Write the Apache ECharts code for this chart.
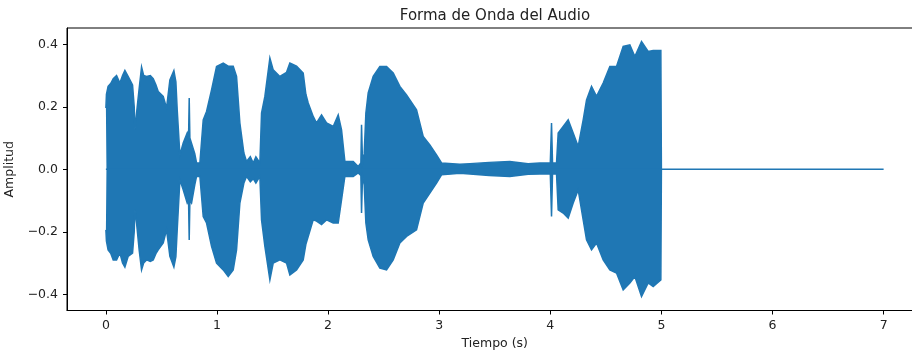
<!DOCTYPE html>
<html>
<head>
<meta charset="utf-8">
<title>Forma de Onda del Audio</title>
<script src="https://cdn.jsdelivr.net/npm/echarts@6/dist/echarts.min.js"></script>
<style>
  html, body { margin: 0; padding: 0; background: #fff; }
  #chart { width: 912px; height: 353px; }
</style>
</head>
<body>
<div id="chart"></div>
<script>
// Amplitude envelope of the recording (seconds, peak / trough)
const timeSec = [
  0.0, 0.005, 0.02, 0.045, 0.066, 0.096, 0.126, 0.15, 0.171, 0.2,
  0.24, 0.255, 0.261, 0.276, 0.3, 0.321, 0.34, 0.366, 0.4, 0.426,
  0.45, 0.471, 0.516, 0.546, 0.576, 0.612, 0.63, 0.642, 0.666, 0.696,
  0.732, 0.744, 0.75, 0.756, 0.771, 0.8, 0.816, 0.846, 0.876, 0.906,
  0.951, 0.996, 1.056, 1.101, 1.146, 1.176, 1.206, 1.242, 1.266, 1.3,
  1.326, 1.35, 1.386, 1.401, 1.431, 1.476, 1.506, 1.566, 1.626, 1.656,
  1.716, 1.776, 1.8, 1.821, 1.866, 1.896, 1.941, 1.986, 2.046, 2.091,
  2.121, 2.151, 2.226, 2.271, 2.295, 2.301, 2.31, 2.325, 2.34, 2.361,
  2.406, 2.466, 2.526, 2.586, 2.646, 2.706, 2.796, 2.856, 2.916, 2.976,
  3.021, 3.186, 3.276, 3.45, 3.636, 3.8, 3.906, 4.0, 4.011, 4.02,
  4.056, 4.071, 4.116, 4.161, 4.206, 4.251, 4.296, 4.326, 4.371, 4.416,
  4.476, 4.536, 4.596, 4.656, 4.716, 4.761, 4.821, 4.881, 4.926, 4.995,
  5.0
];
const peakAmp = [
  0.196, 0.24, 0.265, 0.275, 0.29, 0.30, 0.276, 0.30, 0.316, 0.297,
  0.27, 0.20, 0.126, 0.18, 0.26, 0.327, 0.30, 0.297, 0.30, 0.29,
  0.27, 0.249, 0.233, 0.196, 0.286, 0.316, 0.28, 0.19, 0.046, 0.084,
  0.116, 0.10, 0.228, 0.10, 0.10, 0.05, 0.02, 0.02, 0.158, 0.185,
  0.254, 0.329, 0.34, 0.33, 0.33, 0.297, 0.148, 0.052, 0.025, 0.04,
  0.02, 0.04, 0.02, 0.18, 0.233, 0.356, 0.318, 0.297, 0.31, 0.34,
  0.33, 0.308, 0.24, 0.212, 0.169, 0.148, 0.174, 0.148, 0.137, 0.174,
  0.126, 0.025, 0.025, 0.009, 0.02, 0.142, 0.02, 0.05, 0.18, 0.244,
  0.297, 0.329, 0.329, 0.308, 0.265, 0.238, 0.19, 0.105, 0.078, 0.046,
  0.02, 0.016, 0.018, 0.022, 0.025, 0.018, 0.02, 0.02, 0.148, 0.02,
  0.02, 0.116, 0.137, 0.158, 0.116, 0.073, 0.158, 0.222, 0.265, 0.233,
  0.276, 0.329, 0.329, 0.393, 0.398, 0.361, 0.409, 0.377, 0.38, 0.38,
  0
];
const troughAmp = [
  -0.194, -0.23, -0.258, -0.27, -0.29, -0.29, -0.268, -0.30, -0.313, -0.279,
  -0.268, -0.20, -0.13, -0.172, -0.26, -0.322, -0.30, -0.29, -0.295, -0.29,
  -0.27, -0.258, -0.236, -0.194, -0.279, -0.313, -0.28, -0.194, -0.034, -0.066,
  -0.108, -0.10, -0.226, -0.10, -0.108, -0.05, -0.023, -0.023, -0.151, -0.172,
  -0.247, -0.30, -0.322, -0.343, -0.322, -0.258, -0.108, -0.044, -0.023, -0.04,
  -0.03, -0.044, -0.023, -0.162, -0.247, -0.354, -0.30, -0.29, -0.30, -0.338,
  -0.322, -0.29, -0.24, -0.215, -0.162, -0.166, -0.177, -0.162, -0.172, -0.172,
  -0.098, -0.023, -0.023, -0.012, -0.02, -0.14, -0.02, -0.05, -0.172, -0.226,
  -0.279, -0.316, -0.322, -0.29, -0.236, -0.215, -0.194, -0.108, -0.076, -0.044,
  -0.018, -0.013, -0.015, -0.02, -0.023, -0.016, -0.015, -0.015, -0.151, -0.015,
  -0.015, -0.13, -0.14, -0.156, -0.108, -0.066, -0.162, -0.226, -0.258, -0.236,
  -0.29, -0.322, -0.332, -0.386, -0.364, -0.343, -0.407, -0.364, -0.375, -0.354,
  0
];
// Zero line running through the whole file, including the silent tail
const zeroLineTime = [0.0, 7.0];
const zeroLineAmp = [0, 0];

const xTicks = [0, 1, 2, 3, 4, 5, 6, 7];
const yTicks = [-0.4, -0.2, 0.0, 0.2, 0.4];
const yTickLabels = ['\u22120.4', '\u22120.2', '0.0', '0.2', '0.4'];

const BLUE = '#1f77b4';
const FONT = 'DejaVu Sans';
const TEXT = '#222';

const pairs = (xs, ys) => xs.map((x, i) => [x, ys[i]]);

const waveSeries = (name, values) => ({
  name: name,
  type: 'line',
  data: pairs(timeSec, values),
  showSymbol: false,
  silent: true,
  lineStyle: { color: BLUE, width: 1.5, join: 'miter' },
  areaStyle: { color: BLUE, opacity: 1, origin: 0 },
  z: 2
});

const chart = echarts.init(document.getElementById('chart'), null, { renderer: 'canvas' });
chart.setOption({
  animation: false,
  backgroundColor: '#fff',
  title: {
    text: 'Forma de Onda del Audio',
    left: 495,
    top: 9,
    padding: 0,
    textAlign: 'center',
    textStyle: { fontFamily: FONT, fontSize: 15, fontWeight: 'normal', color: TEXT }
  },
  grid: {
    left: 67,
    top: 28,
    width: 855.5,
    height: 282.5,
    outerBoundsMode: 'none',
    containLabel: false,
    show: true,
    borderColor: '#000',
    borderWidth: 1,
    backgroundColor: 'transparent'
  },
  xAxis: {
    type: 'value',
    min: -0.35,
    max: 7.35,
    name: 'Tiempo (s)',
    nameLocation: 'middle',
    nameGap: 25,
    nameTextStyle: { fontFamily: FONT, fontSize: 12.5, color: TEXT },
    axisLine: { show: true, onZero: false, lineStyle: { color: '#000', width: 1 } },
    axisTick: { show: true, length: 4, lineStyle: { color: '#000', width: 1 }, customValues: xTicks },
    axisLabel: {
      fontFamily: FONT, fontSize: 12.5, color: TEXT, margin: 9,
      customValues: xTicks,
      formatter: v => String(Math.round(v))
    },
    splitLine: { show: false }
  },
  yAxis: {
    type: 'value',
    min: -0.452,
    max: 0.452,
    name: 'Amplitud',
    nameLocation: 'middle',
    nameGap: 48,
    nameTextStyle: { fontFamily: FONT, fontSize: 12.5, color: TEXT },
    axisLine: { show: true, onZero: false, lineStyle: { color: '#000', width: 1 } },
    axisTick: { show: true, length: 4, lineStyle: { color: '#000', width: 1 }, customValues: yTicks },
    axisLabel: {
      fontFamily: FONT, fontSize: 12.5, color: TEXT, margin: 9,
      customValues: yTicks,
      formatter: v => {
        const i = yTicks.findIndex(t => Math.abs(t - v) < 1e-6);
        return i >= 0 ? yTickLabels[i] : '';
      }
    },
    splitLine: { show: false }
  },
  series: [
    waveSeries('pico', peakAmp),
    waveSeries('valle', troughAmp),
    {
      name: 'cero',
      type: 'line',
      data: pairs(zeroLineTime, zeroLineAmp),
      showSymbol: false,
      silent: true,
      lineStyle: { color: BLUE, width: 1.5 },
      z: 3
    }
  ]
});
</script>
</body>
</html>
